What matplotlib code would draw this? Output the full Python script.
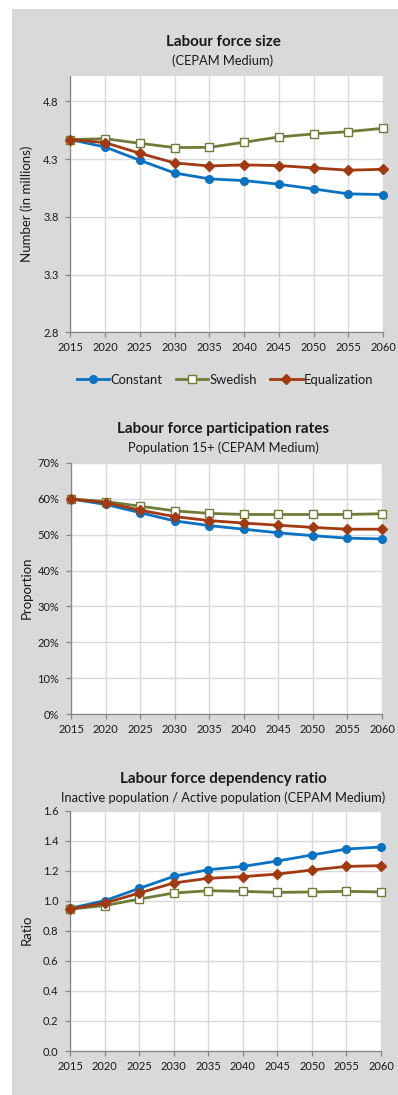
import matplotlib
matplotlib.use("Agg")
import matplotlib.pyplot as plt
from matplotlib.patches import Rectangle
from matplotlib.ticker import FuncFormatter

plt.rcParams['font.family'] = ['Lato', 'DejaVu Sans']

years = [2015, 2020, 2025, 2030, 2035, 2040, 2045, 2050, 2055, 2060]

# Labour force size (millions)
lf_constant = [4.469, 4.405, 4.290, 4.180, 4.129, 4.114, 4.083, 4.042, 3.999, 3.993]
lf_swedish = [4.469, 4.477, 4.437, 4.400, 4.402, 4.446, 4.492, 4.518, 4.538, 4.567]
lf_equal = [4.469, 4.443, 4.351, 4.267, 4.241, 4.250, 4.244, 4.224, 4.204, 4.212]

# Participation rates (%)
pr_constant = [59.9, 58.4, 56.1, 53.8, 52.5, 51.5, 50.5, 49.7, 49.0, 48.8]
pr_swedish = [59.9, 59.2, 57.9, 56.6, 55.9, 55.6, 55.6, 55.6, 55.6, 55.8]
pr_equal = [59.9, 58.9, 56.8, 55.0, 53.9, 53.2, 52.6, 52.0, 51.5, 51.5]

# Dependency ratio
dr_constant = [0.950, 1.001, 1.083, 1.163, 1.207, 1.229, 1.265, 1.305, 1.345, 1.358]
dr_swedish = [0.945, 0.968, 1.012, 1.052, 1.067, 1.063, 1.056, 1.059, 1.063, 1.059]
dr_equal = [0.945, 0.985, 1.052, 1.119, 1.150, 1.161, 1.178, 1.205, 1.229, 1.234]

series_names = ["Constant", "Swedish", "Equalization"]

W, H = 398, 1095
fig = plt.figure(figsize=(W / 100, H / 100), dpi=100)
fig.patch.set_facecolor('white')

BG = '#D9D9D9'
fig.patches.append(Rectangle((12 / W, 0), 1 - 12 / W, (H - 9) / H,
                             transform=fig.transFigure, facecolor=BG,
                             edgecolor='none', zorder=-10))

C_BLUE = '#0A72C2'
C_GREEN = '#6E7C38'
C_RED = '#A23A11'
TXT = '#1a1a1a'


def px_axes(left, top, right, bottom):
    return fig.add_axes([left / W, 1 - bottom / H, (right - left) / W, (bottom - top) / H])


def style_axes(ax):
    ax.set_facecolor('white')
    ax.set_xlim(2015, 2060)
    ax.set_xticks(years)
    ax.grid(True, color='#D9D9D9', linewidth=1.0)
    ax.set_axisbelow(True)
    for s in ['top', 'right']:
        ax.spines[s].set_visible(False)
    for s in ['left', 'bottom']:
        ax.spines[s].set_color('#868686')
        ax.spines[s].set_linewidth(0.9)
    ax.tick_params(axis='both', direction='out', length=3.5, width=0.9,
                   color='#868686', labelsize=8.0, labelcolor=TXT)
    ax.tick_params(axis='y', pad=5)
    ax.tick_params(axis='x', pad=3.5)


def plot_series(ax, c, s, e):
    lc, = ax.plot(years, c, color=C_BLUE, lw=2.0, marker='o', ms=5.5,
                  mfc=C_BLUE, mec=C_BLUE, zorder=3, clip_on=False)
    ls, = ax.plot(years, s, color=C_GREEN, lw=2.0, marker='s', ms=5.5,
                  mfc='white', mec=C_GREEN, mew=1.0, zorder=3, clip_on=False)
    le, = ax.plot(years, e, color=C_RED, lw=2.0, marker='D', ms=5.0,
                  mfc=C_RED, mec=C_RED, zorder=4, clip_on=False)
    return [lc, ls, le]


def titles(title, sub, yt, ys, xc=223):
    fig.text(xc / W, 1 - yt / H, title, ha='center', va='center',
             fontsize=10.9, fontweight='bold', color=TXT)
    fig.text(xc / W, 1 - ys / H, sub, ha='center', va='center',
             fontsize=9.3, color=TXT)


# Chart 1
ax1 = px_axes(70.3, 76, 383, 332.3)
style_axes(ax1)
handles = plot_series(ax1, lf_constant, lf_swedish, lf_equal)
ax1.set_ylim(2.8, 5.02)
ax1.set_yticks([2.8, 3.3, 3.8, 4.3, 4.8])
ax1.yaxis.set_major_formatter(FuncFormatter(lambda v, p: f"{v:.1f}"))
titles("Labour force size", "(CEPAM Medium)", 42, 61)
fig.text(27 / W, 1 - 204 / H, "Number (in millions)", rotation=90,
         ha='center', va='center', fontsize=9.5, color=TXT)

fig.legend(handles, series_names, loc='center', bbox_to_anchor=(225 / W, 1 - 379.5 / H),
           ncol=3, frameon=False, fontsize=9.4, handlelength=2.5,
           handletextpad=0.1, columnspacing=1.0, labelcolor=TXT)

# Chart 2
ax2 = px_axes(71, 462.7, 382, 714.3)
style_axes(ax2)
plot_series(ax2, pr_constant, pr_swedish, pr_equal)
ax2.set_ylim(0, 70)
ax2.set_yticks(range(0, 71, 10))
ax2.yaxis.set_major_formatter(FuncFormatter(lambda v, p: f"{v:.0f}%"))
titles("Labour force participation rates", "Population 15+ (CEPAM Medium)", 429.3, 447.7)
fig.text(27 / W, 1 - 588 / H, "Proportion", rotation=90,
         ha='center', va='center', fontsize=9.5, color=TXT)

# Chart 3
ax3 = px_axes(70.3, 810.7, 381, 1051)
style_axes(ax3)
plot_series(ax3, dr_constant, dr_swedish, dr_equal)
ax3.set_ylim(0, 1.6)
ax3.set_yticks([0, 0.2, 0.4, 0.6, 0.8, 1.0, 1.2, 1.4, 1.6])
ax3.yaxis.set_major_formatter(FuncFormatter(lambda v, p: f"{v:.1f}"))
titles("Labour force dependency ratio",
       "Inactive population / Active population (CEPAM Medium)", 779, 797.7)
fig.text(27 / W, 1 - 930 / H, "Ratio", rotation=90,
         ha='center', va='center', fontsize=9.5, color=TXT)

fig.savefig("out.png", dpi=100, facecolor=fig.get_facecolor())
